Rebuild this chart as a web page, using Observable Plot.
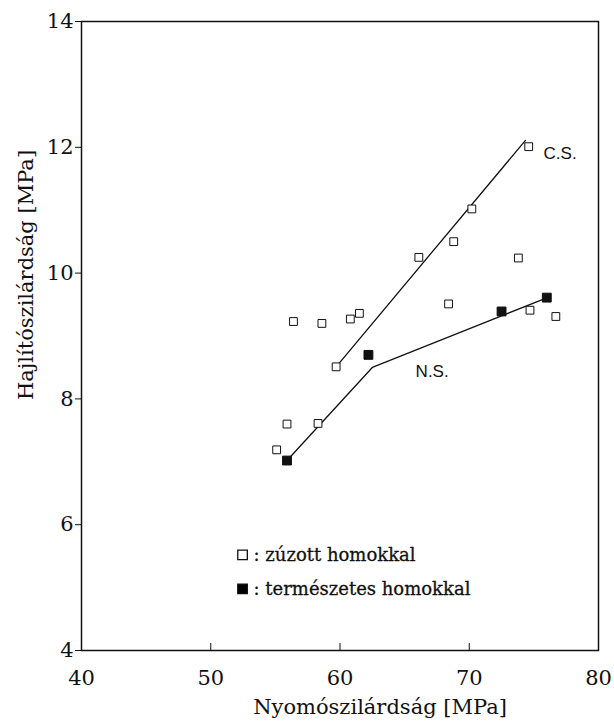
<!DOCTYPE html>
<html>
<head>
<meta charset="utf-8">
<script src="https://cdn.jsdelivr.net/npm/d3@7"></script>
<script src="https://cdn.jsdelivr.net/npm/@observablehq/plot@0.6"></script>
<style>
  html, body { margin: 0; padding: 0; background: #fff; }
  svg { display: block; }
</style>
</head>
<body>
<div id="chart"></div>
<script>
// zúzott homokkal (crushed sand) – hollow squares
const crushedX = [74.6, 70.2, 68.8, 66.1, 73.8, 68.4, 74.7, 76.7, 56.4, 58.6, 60.8, 61.5, 59.7, 55.9, 58.3, 55.1];
const crushedY = [12.01, 11.02, 10.5, 10.25, 10.24, 9.51, 9.41, 9.31, 9.23, 9.2, 9.27, 9.36, 8.51, 7.6, 7.61, 7.19];
// természetes homokkal (natural sand) – filled squares
const naturalX = [55.9, 62.2, 72.5, 76.0];
const naturalY = [7.02, 8.7, 9.39, 9.61];
// C.S. fit line
const csLineX = [59.7, 74.35];
const csLineY = [8.51, 12.11];
// N.S. fit line
const nsLineX = [55.9, 62.5, 72.5, 75.8];
const nsLineY = [7.02, 8.5, 9.32, 9.59];

const xTicks = [40, 50, 60, 70, 80];
const yTicks = [4, 6, 8, 10, 12, 14];

const crushed = crushedX.map((x, i) => ({x, y: crushedY[i]}));
const natural = naturalX.map((x, i) => ({x, y: naturalY[i]}));
const csLine = csLineX.map((x, i) => ({x, y: csLineY[i]}));
const nsLine = nsLineX.map((x, i) => ({x, y: nsLineY[i]}));

const legend = [
  {x: 52.46, y: 5.52, label: ": zúzott homokkal", fill: "white"},
  {x: 52.46, y: 4.98, label: ": természetes homokkal", fill: "black"}
];
const curveLabels = [
  {x: 75.75, y: 11.9, label: "C.S."},
  {x: 65.85, y: 8.43, label: "N.S."}
];

const serif = "'DejaVu Serif', 'Liberation Serif', serif";
const sans = "'Liberation Sans', Arial, sans-serif";

const chart = Plot.plot({
  width: 614,
  height: 721,
  marginLeft: 81,
  marginRight: 16,
  marginTop: 21,
  marginBottom: 71,
  style: {fontFamily: serif, color: "#111", background: "white"},
  x: {domain: [40, 80]},
  y: {domain: [4, 14]},
  marks: [
    Plot.frame({stroke: "#111", strokeWidth: 1.5}),
    Plot.axisX({ticks: xTicks, tickSize: -7, tickPadding: 27, tickFormat: d => String(d), label: null, stroke: "#111"}),
    Plot.axisY({ticks: yTicks, tickSize: 6, tickPadding: 2, tickFormat: d => String(d), label: null, stroke: "#111"}),
    Plot.text(["Nyomószilárdság [MPa]"], {frameAnchor: "bottom", dx: 40, dy: 63, fontSize: 21, fill: "#111", fontFamily: serif, ariaLabel: "xlabel"}),
    Plot.text(["Hajlítószilárdság [MPa]"], {x: 40, y: 9.97, dx: -55, rotate: -90, fontSize: 21, fill: "#111", fontFamily: serif, ariaLabel: "ylabel"}),
    Plot.line(csLine, {x: "x", y: "y", stroke: "#111", strokeWidth: 1.3}),
    Plot.line(nsLine, {x: "x", y: "y", stroke: "#111", strokeWidth: 1.3}),
    Plot.dot(crushed, {x: "x", y: "y", symbol: "square", r: 4.4, fill: "white", stroke: "#111", strokeWidth: 1}),
    Plot.dot(natural, {x: "x", y: "y", symbol: "square", r: 5, fill: "#111", stroke: "#111", strokeWidth: 1}),
    Plot.text(curveLabels, {x: "x", y: "y", text: "label", textAnchor: "start", fontFamily: sans, fontSize: 17, fill: "#111"}),
    Plot.dot(legend, {x: "x", y: "y", symbol: "square", r: 5.4, fill: "fill", stroke: "#111", strokeWidth: 1.3}),
    Plot.text(legend, {x: "x", y: "y", text: "label", textAnchor: "start", dx: 11, fontSize: 18, fill: "#111", stroke: "#111", strokeWidth: 0.3, fontFamily: serif, ariaLabel: "legendtext"})
  ]
});
const svg = d3.select(chart);
svg.selectAll("g[aria-label='x-axis tick label'], g[aria-label='y-axis tick label']")
  .attr("font-size", 21).style("font-size", "21px");
svg.selectAll("g[aria-label='xlabel'] text").style("letter-spacing", "1.5px");
svg.selectAll("g[aria-label='ylabel'] text").style("letter-spacing", "1.2px");
svg.selectAll("g[aria-label='legendtext'] text").style("letter-spacing", "1px");
document.getElementById("chart").appendChild(chart);
</script>
</body>
</html>
